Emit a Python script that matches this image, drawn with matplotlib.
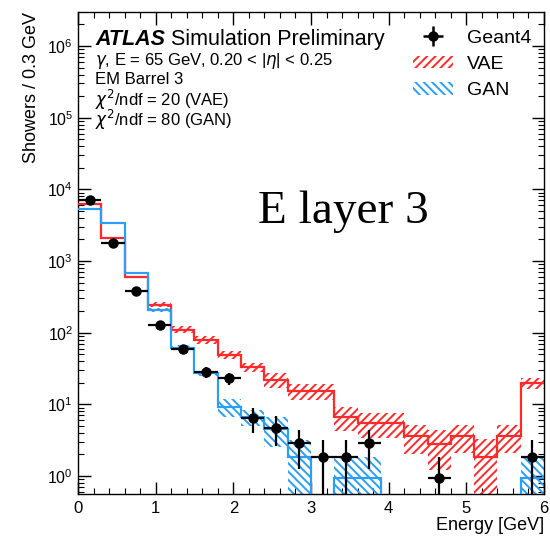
import numpy as np
import matplotlib
matplotlib.use("Agg")
import matplotlib.pyplot as plt
from matplotlib.lines import Line2D
from matplotlib.patches import Patch
from matplotlib.legend_handler import HandlerTuple
from matplotlib.ticker import LogLocator, MultipleLocator, NullFormatter

plt.rcParams['font.family'] = ['Liberation Sans', 'DejaVu Sans']
plt.rcParams['hatch.linewidth'] = 1.4

# ---- data (Energy bins of 0.3 GeV, 0 - 6 GeV) ----
bin_width = 0.3
n_bins = 20
geant4 = [7200, 1760, 380, 130, 59, 28.5, 23, 6.5, 4.7, 2.85,
          1.86, 1.86, 2.85, 0, 0, 0.93, 0, 0, 0, 1.86]
geant4_err = [85, 41, 19, 11, 7.4, 5.1, 4.6, 2.5, 2.1, 1.6,
              1.3, 1.3, 1.6, 0, 0, 0.93, 0, 0, 0, 1.3]
vae = [6200, 2100, 600, 247, 110, 80, 49, 33, 22, 15.5,
       15.5, 6.7, 5.5, 5.5, 3.6, 2.8, 3.6, 1.86, 3.6, 20]
vae_err = [60, 40, 20, 20, 12, 10, 6, 4.3, 5, 4,
           4, 2.4, 2.1, 2.1, 1.6, 1.6, 1.5, 1.4, 1.5, 3.5]
gan = [5250, 3400, 670, 207, 62, 27, 9.3, 6.7, 4.6, 1.86,
       0, 0.93, 0.93, 0, 0, 0, 0, 0, 0, 0.93]
gan_err = [50, 40, 20, 15, 5, 2.2, 2.7, 1.7, 2.1, 1.3,
           0, 0.93, 0.93, 0, 0, 0, 0, 0, 0, 0.93]

RED = '#ff2b2b'
BLUE = '#2b9ef5'

edges = np.arange(n_bins + 1) * bin_width
centers = edges[:-1] + bin_width / 2
YMIN, YMAX = 0.561, 2.98e6
FLOOR = 1e-3

fig = plt.figure(figsize=(5.5, 5.39), dpi=100)
ax = fig.add_axes([0.1418, 0.0835, 0.8473, 0.8942])


def band(values, errs, color, hatch):
    v = np.array(values, float)
    e = np.array(errs, float)
    mask = v > 0
    lo = np.clip(v - e, FLOOR, None)
    hi = v + e
    ax.bar(centers[mask], (hi - lo)[mask], bottom=lo[mask], width=bin_width,
           align='center', fill=False, hatch=hatch, edgecolor=color,
           linewidth=0, zorder=2)
    ax.stairs(np.where(v > 0, v, FLOOR), edges, color=color, linewidth=1.6,
              zorder=3, baseline=None)


band(vae, vae_err, RED, '////')
band(gan, gan_err, BLUE, '\\\\\\\\')

g = np.array(geant4, float)
ge = np.array(geant4_err, float)
m = g > 0
ax.errorbar(centers[m], g[m], yerr=ge[m], xerr=bin_width / 2, fmt='o',
            color='black', ms=6.5, elinewidth=1.6, capsize=0, zorder=5)

ax.set_yscale('log')
ax.set_xlim(0, 6)
ax.set_ylim(YMIN, YMAX)

ax.xaxis.set_major_locator(MultipleLocator(1))
ax.xaxis.set_minor_locator(MultipleLocator(0.2))
ax.yaxis.set_major_locator(LogLocator(base=10, numticks=20))
ax.yaxis.set_minor_locator(LogLocator(base=10, subs=np.arange(2, 10), numticks=50))
ax.yaxis.set_minor_formatter(NullFormatter())
ax.tick_params(which='both', direction='in', top=True, right=True)
ax.tick_params(which='major', length=9, width=1.0, labelsize=12)
ax.tick_params(axis='y', which='major', labelsize=11.5)
ax.tick_params(which='minor', length=4.5, width=0.8)
ax.tick_params(axis='x', pad=5)
for s in ax.spines.values():
    s.set_linewidth(1.0)

ax.set_xlabel('Energy [GeV]', fontsize=13, loc='right', labelpad=1)
ax.set_ylabel('Showers / 0.3 GeV', fontsize=13, loc='top', labelpad=5)

# annotations
t = ax.text(0.0365, 0.9315, 'ATLAS', transform=ax.transAxes, fontsize=15.5,
            fontweight='bold', fontstyle='italic', va='baseline')
ax.annotate(' Simulation Preliminary', xy=(1, 0), xycoords=t, fontsize=15.5,
            va='bottom', ha='left')
ax.text(0.0365, 0.890, r'$\gamma$, E = 65 GeV, 0.20 < |$\eta$| < 0.25',
        transform=ax.transAxes, fontsize=12, va='baseline')
ax.text(0.0365, 0.8506, 'EM Barrel 3', transform=ax.transAxes, fontsize=12,
        va='baseline')
ax.text(0.0365, 0.805, r'$\chi^2$/ndf = 20 (VAE)', transform=ax.transAxes,
        fontsize=12, va='baseline')
ax.text(0.0365, 0.7635, r'$\chi^2$/ndf = 80 (GAN)', transform=ax.transAxes,
        fontsize=12, va='baseline')
ax.text(0.386, 0.562, 'E layer 3', transform=ax.transAxes, fontsize=34,
        family='Liberation Serif', va='baseline')

# legend
h_geant = (Line2D([], [], color='black', marker='+', ms=14, mew=1.8, ls='none'),
           Line2D([], [], color='black', marker='o', ms=6.5, ls='none'))
h_vae = Patch(facecolor='none', edgecolor=RED, hatch='////', linewidth=0)
h_gan = Patch(facecolor='none', edgecolor=BLUE, hatch='\\\\\\\\', linewidth=0)
ax.legend([h_geant, h_vae, h_gan], ['Geant4', 'VAE', 'GAN'],
          handler_map={tuple: HandlerTuple(ndivide=1, pad=0)},
          loc='upper left', bbox_to_anchor=(0.719, 0.964), frameon=False,
          fontsize=14, handlelength=2.06, handleheight=0.62, handletextpad=0.72,
          labelspacing=0.48, borderpad=0, borderaxespad=0)

fig.savefig('out.png', dpi=100)
